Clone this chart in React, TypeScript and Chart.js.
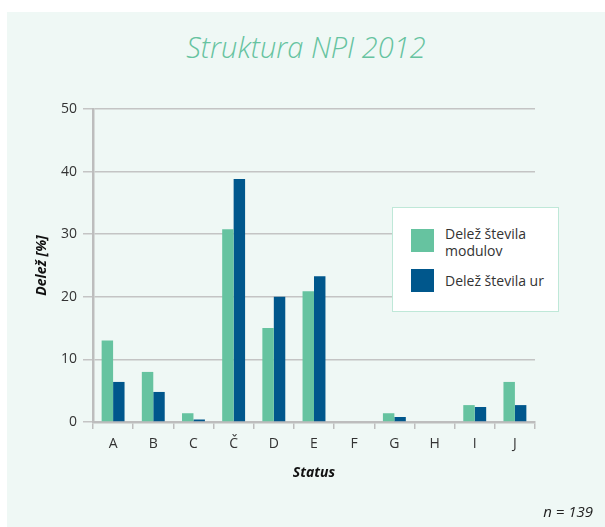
import React, { useEffect, useRef } from "react";
import { Chart, registerables } from "chart.js";

Chart.register(...registerables);

const categories = ["A", "B", "C", "Č", "D", "E", "F", "G", "H", "I", "J"];
const delezModulov = [13, 8, 1.4, 30.8, 15, 20.9, 0, 1.4, 0, 2.7, 6.4];
const delezUr = [6.4, 4.8, 0.4, 38.8, 20, 23.3, 0, 0.8, 0, 2.4, 2.7];
const yTicks = [0, 10, 20, 30, 40, 50];
const seriesLabels = ["Delež števila modulov", "Delež števila ur"];
const seriesColors = ["#66c3a0", "#00578c"];
const chartTitle = "Struktura NPI 2012";
const xTitle = "Status";
const yTitle = "Delež [%]";
const note = "n = 139";

const FONT = "'Open Sans', 'DejaVu Sans', sans-serif";

export default function App() {
  const ref = useRef<HTMLCanvasElement | null>(null);

  useEffect(() => {
    if (!ref.current) return;
    const chart = new Chart(ref.current, {
      type: "bar",
      data: {
        labels: categories,
        datasets: [
          {
            label: seriesLabels[0],
            data: delezModulov,
            backgroundColor: seriesColors[0],
            categoryPercentage: 0.57,
            barPercentage: 1,
          },
          {
            label: seriesLabels[1],
            data: delezUr,
            backgroundColor: seriesColors[1],
            categoryPercentage: 0.57,
            barPercentage: 1,
          },
        ],
      },
      options: {
        animation: false,
        responsive: false,
        maintainAspectRatio: false,
        layout: { padding: { left: 30, top: 109, right: 70, bottom: 35 } },
        plugins: {
          legend: { display: false },
          title: { display: false },
          tooltip: { enabled: false },
        },
        scales: {
          x: {
            offset: true,
            grid: {
              offset: true,
              drawOnChartArea: false,
              drawTicks: true,
              tickLength: 7,
              color: "#bdbdbd",
              lineWidth: 1.5,
            },
            border: { color: "#bdbdbd", width: 2.5 },
            ticks: { color: "#333", font: { family: FONT, size: 14 }, padding: 7 },
            title: {
              display: true,
              text: xTitle,
              color: "#111",
              font: { family: FONT, size: 14, weight: "bold", style: "italic" },
              padding: { top: 0, bottom: 11 },
            },
            afterFit: (s: any) => {
              s.height = 70;
            },
          },
          y: {
            min: 0,
            max: 50,
            afterBuildTicks: (s: any) => {
              s.ticks = yTicks.map((v) => ({ value: v }));
            },
            grid: { color: "#c4c4c4", lineWidth: 1.5, tickLength: 10 },
            border: { color: "#bdbdbd", width: 2.5 },
            ticks: { color: "#333", font: { family: FONT, size: 14 }, padding: 6 },
            title: {
              display: true,
              text: yTitle,
              color: "#111",
              font: { family: FONT, size: 14, weight: "bold", style: "italic" },
              padding: { top: 4, bottom: 0 },
            },
            afterFit: (s: any) => {
              s.width = 63;
            },
          },
        },
      },
    });
    return () => chart.destroy();
  }, []);

  return (
    <div style={{ position: "absolute", left: 0, top: 0, width: 605, height: 527, overflow: "hidden", background: "#fff" }}>
      <div style={{ position: "absolute", left: 7, top: 12, right: 0, bottom: 0, background: "#eff8f5" }} />
      <div
        style={{
          position: "absolute",
          left: 106,
          top: 30,
          width: 400,
          textAlign: "center",
          fontFamily: FONT,
          fontStyle: "italic",
          fontWeight: 300,
          fontSize: 29,
          lineHeight: "34px",
          color: "#66c3a0",
        }}
      >
        {chartTitle}
      </div>
      <canvas ref={ref} width={605} height={527} style={{ position: "absolute", left: 0, top: 0 }} />
      <div
        style={{
          position: "absolute",
          left: 392,
          top: 207,
          width: 167,
          height: 105,
          boxSizing: "border-box",
          background: "#fff",
          border: "1.5px solid #bfe8d8",
          fontFamily: FONT,
          fontSize: 14,
          color: "#333",
        }}
      >
        {seriesLabels.map((lab, i) => (
          <div key={lab}>
            <div
              style={{
                position: "absolute",
                left: 18,
                top: i === 0 ? 21 : 61,
                width: 23,
                height: 23,
                background: seriesColors[i],
              }}
            />
            <div
              style={{
                position: "absolute",
                left: 52,
                top: i === 0 ? 17 : 64,
                width: 105,
                lineHeight: "17px",
              }}
            >
              {lab}
            </div>
          </div>
        ))}
      </div>
      <div
        style={{
          position: "absolute",
          right: 12,
          top: 501,
          fontFamily: FONT,
          fontStyle: "italic",
          fontSize: 15,
          lineHeight: "20px",
          color: "#222",
        }}
      >
        {note}
      </div>
    </div>
  );
}
